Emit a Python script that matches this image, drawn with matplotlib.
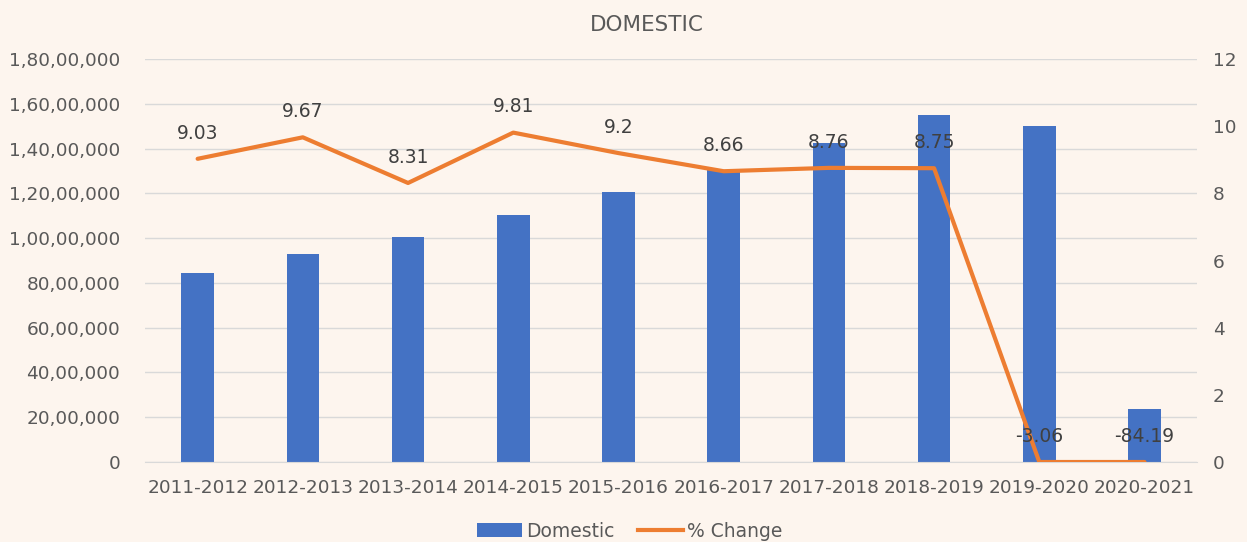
import matplotlib
matplotlib.use("Agg")
import matplotlib.pyplot as plt
from matplotlib.ticker import FuncFormatter, MultipleLocator
import numpy as np

categories = ["2011-2012", "2012-2013", "2013-2014", "2014-2015", "2015-2016",
              "2016-2017", "2017-2018", "2018-2019", "2019-2020", "2020-2021"]
domestic = [8450000, 9270000, 10050000, 11030000, 12060000,
            13050000, 14250000, 15500000, 15020000, 2360000]
pct_change = [9.03, 9.67, 8.31, 9.81, 9.2, 8.66, 8.76, 8.75, -3.06, -84.19]

plt.rcParams['font.family'] = ['DejaVu Sans']
BG = "#FDF5EE"
TXT = "#595959"
BLUE = "#4472C4"
ORANGE = "#ED7D31"

fig = plt.figure(figsize=(12.47, 5.42), dpi=100, facecolor=BG)
ax = fig.add_axes([0.1163, 0.1476, 0.8437, 0.7434], facecolor=BG)

def indian(v, pos=None):
    v = int(round(v))
    s = str(abs(v))
    if len(s) > 3:
        last3 = s[-3:]
        rest = s[:-3]
        parts = []
        while len(rest) > 2:
            parts.insert(0, rest[-2:])
            rest = rest[:-2]
        if rest:
            parts.insert(0, rest)
        s = ",".join(parts + [last3])
    return ("-" if v < 0 else "") + s

x = np.arange(len(categories))
ax.bar(x, domestic, width=0.31, color=BLUE, zorder=2)
ax.set_xlim(-0.5, len(categories) - 0.5)
ax.set_ylim(0, 18000000)
ax.yaxis.set_major_locator(MultipleLocator(2000000))
ax.yaxis.set_major_formatter(FuncFormatter(indian))
ax.grid(axis='y', color="#D9D9D9", linewidth=1, zorder=0)
ax.set_axisbelow(True)
ax.set_xticks(x)
ax.set_xticklabels(categories)
ax.tick_params(axis='both', length=0, labelsize=13.3, colors=TXT)
ax.tick_params(axis='x', pad=12)
ax.tick_params(axis='y', pad=18)
for s in ax.spines.values():
    s.set_visible(False)
ax.spines['bottom'].set_visible(True)
ax.spines['bottom'].set_color("#D9D9D9")

ax2 = ax.twinx()
ax2.set_ylim(0, 12)
ax2.yaxis.set_major_locator(MultipleLocator(2))
line_vals = np.clip(pct_change, 0, None)
ax2.plot(x, line_vals, color=ORANGE, linewidth=3, zorder=3, solid_capstyle='round')
ax2.tick_params(axis='y', length=0, labelsize=13.3, colors=TXT, pad=11.5)
for s in ax2.spines.values():
    s.set_visible(False)
for xi, yv, lab in zip(x, line_vals, pct_change):
    ax2.annotate(f"{lab:g}", (xi, yv), xytext=(0, 18.5), textcoords='offset points',
                 ha='center', va='center', fontsize=13.5, color="#404040")

fig.text(647 / 1247, 1 - 25 / 542, "DOMESTIC", ha='center', va='center',
         fontsize=15.5, color=TXT)

from matplotlib.patches import Patch
from matplotlib.lines import Line2D
handles = [Patch(facecolor=BLUE, label="Domestic"),
           Line2D([0], [0], color=ORANGE, lw=3, label="% Change")]
fig.legend(handles=handles, loc='center', bbox_to_anchor=(0.505, 0.02), ncol=2,
           frameon=False, fontsize=13.5, labelcolor=TXT, handlelength=2.4,
           handleheight=0.8, columnspacing=1.3, handletextpad=0.2)

fig.savefig("out.png", dpi=100, facecolor=BG)
